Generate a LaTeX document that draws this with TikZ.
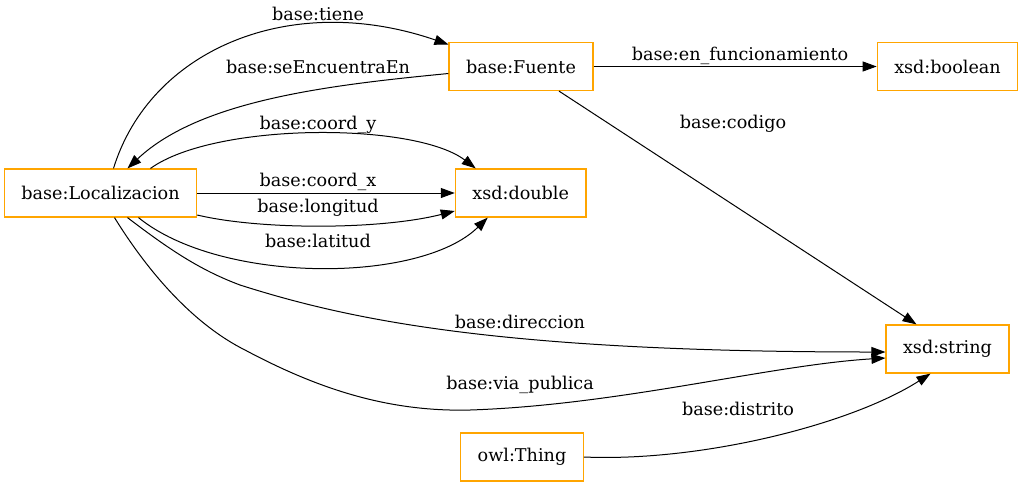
\documentclass[tikz,border=0pt]{standalone}
\usepackage{fontspec}
\setmainfont{DejaVu Serif}
\usepackage{tikz}
\usetikzlibrary{arrows.meta}
\usetikzlibrary{calc}
\definecolor{boxorange}{HTML}{FFA500}
\tikzset{
term/.style={
  rectangle,
  draw=boxorange,
  line width=0.6pt,
  minimum height=24pt,
  inner xsep=8.5pt,
  font=\fontsize{8.8}{10.5}\selectfont
},
edge/.style={
  -{Triangle[length=7pt,width=5pt]},
  line width=0.5pt
},
elabel/.style={font=\fontsize{8.8}{10.5}\selectfont,inner sep=0pt},
}

\begin{document}
\begin{tikzpicture}[x=0.5pt,y=-0.5pt]
\useasboundingbox (0,0) rectangle (1020,483);
% the classes
\node[term] (loc) at (100.5,193) {base:Localizacion};
\node[term] (fuente) at (521,66.5) {base:Fuente};
\node[term] (double) at (520.7,193) {xsd:double};
\node[term] (boolean) at (947.5,66.5) {xsd:boolean};
\node[term] (string) at (947.5,349) {xsd:string};
\node[term] (thing) at (522,457) {owl:Thing};
% the properties
\draw[edge] ($(loc.north)+(13,0)$) .. controls (150,50) and (290,-10) .. ($(fuente.west)+(0,-22)$);
\draw[edge] ($(fuente.west)+(0,7)$) .. controls (330,85) and (200,100) .. ($(loc.north)+(27,0)$);
\draw[edge] ($(loc.north)+(50,0)$) .. controls (215,122) and (415,122) .. ($(double.north)+(-45,0)$);
\draw[edge] (loc.east) -- (double.west);
\draw[edge] ($(loc.east)+(0,22)$) .. controls (260,230) and (380,230) .. ($(double.west)+(0,18)$);
\draw[edge] ($(loc.south)+(38,0)$) .. controls (220,284) and (420,284) .. ($(double.south)+(-33,0)$);
\draw[edge] ($(loc.south)+(27,0)$) .. controls (170,250) and (200,270) .. (240,285)
  .. controls (350,320) and (500,352) .. ($(string.west)+(0,3)$);
\draw[edge] ($(loc.south)+(14,0)$) .. controls (150,275) and (195,325) .. (245,350)
  .. controls (320,390) and (390,412) .. (470,410)
  .. controls (620,405) and (770,365) .. ($(string.west)+(0,9)$);
\draw[edge] (fuente.east) -- (boolean.west);
\draw[edge] ($(fuente.south)+(38,0)$) -- ($(string.north)+(-31,0)$);
\draw[edge] (thing.east) .. controls (700,462) and (850,425) .. ($(string.south)+(-17,0)$);
% the labels
\node[elabel] (l-tiene) at (318,14) {base:tiene};
\node[elabel] (l-se) at (318,67) {base:seEncuentraEn};
\node[elabel] (l-cy) at (318,125) {base:coord\_y};
\node[elabel] (l-cx) at (318,182) {base:coord\_x};
\node[elabel] (l-lon) at (318,208) {base:longitud};
\node[elabel] (l-lat) at (318,241) {base:latitud};
\node[elabel] (l-func) at (740,56) {base:en\_funcionamiento};
\node[elabel] (l-cod) at (733,124) {base:codigo};
\node[elabel] (l-dir) at (520,322) {base:direccion};
\node[elabel] (l-via) at (520,385) {base:via\_publica};
\node[elabel] (l-dis) at (738,409) {base:distrito};
\end{tikzpicture}
\end{document}
